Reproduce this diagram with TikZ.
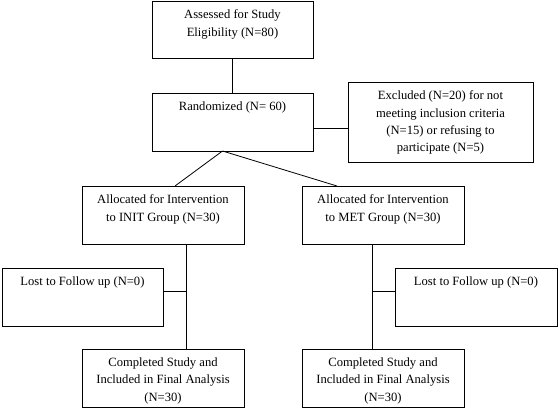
\documentclass[tikz,border=0pt]{standalone}
\usepackage{fontspec}
\setmainfont{Liberation Serif}
\begin{document}
\begin{tikzpicture}[x=1pt,y=-1pt,
  box/.style={draw=black,line width=0.8pt,inner sep=0pt,outer sep=0pt},
  conn/.style={draw=black,line width=0.8pt}]
\useasboundingbox (0,0) rectangle (558,408);
\newcommand{\bxt}[3]{\parbox[t][#2pt][t]{#1pt}{\vspace*{9pt}\centering\fontsize{12.6}{17.2}\selectfont #3\par}}
\node[box] (b1) at (232.5,29.5) {\bxt{161}{57}{Assessed for Study\\Eligibility (N=80)}};
\node[box] (b2) at (232.5,122) {\bxt{161}{58}{Randomized (N= 60)}};
\node[box] (ex) at (440.5,122) {\bxt{185}{80}{Excluded (N=20) for not\\meeting inclusion criteria\\(N=15) or refusing to\\participate (N=5)}};
\node[box] (a1) at (163,215) {\bxt{162}{58}{Allocated for Intervention\\to INIT Group (N=30)}};
\node[box] (a2) at (383,215) {\bxt{162}{58}{Allocated for Intervention\\to MET Group (N=30)}};
\node[box] (l1) at (82.5,297) {\bxt{161}{58}{Lost to Follow up (N=0)}};
\node[box] (l2) at (476,297) {\bxt{162}{58}{Lost to Follow up (N=0)}};
\node[box] (c1) at (163,378) {\bxt{162}{58}{Completed Study and\\Included in Final Analysis\\(N=30)}};
\node[box] (c2) at (383,378) {\bxt{162}{58}{Completed Study and\\Included in Final Analysis\\(N=30)}};
\draw[conn] (b1.south) -- (b2.north);
\draw[conn] ([yshift=-6pt]b2.east) -- ([yshift=-6pt]ex.west);
\coordinate (r) at ([xshift=-10pt]b2.south);
\draw[conn] (r) -- ([xshift=12pt]a1.north);
\draw[conn] (r) -- ([xshift=-46pt]a2.north);
\coordinate (v1) at ([xshift=23pt]a1.south);
\draw[conn] (v1) -- (v1 |- c1.north);
\draw[conn] ([yshift=6pt]l1.east) -- ([yshift=6pt]l1.east -| v1);
\coordinate (v2) at ([xshift=-11pt]a2.south);
\draw[conn] (v2) -- (v2 |- c2.north);
\draw[conn] ([yshift=6pt]l2.west) -- ([yshift=6pt]l2.west -| v2);
\end{tikzpicture}
\end{document}
